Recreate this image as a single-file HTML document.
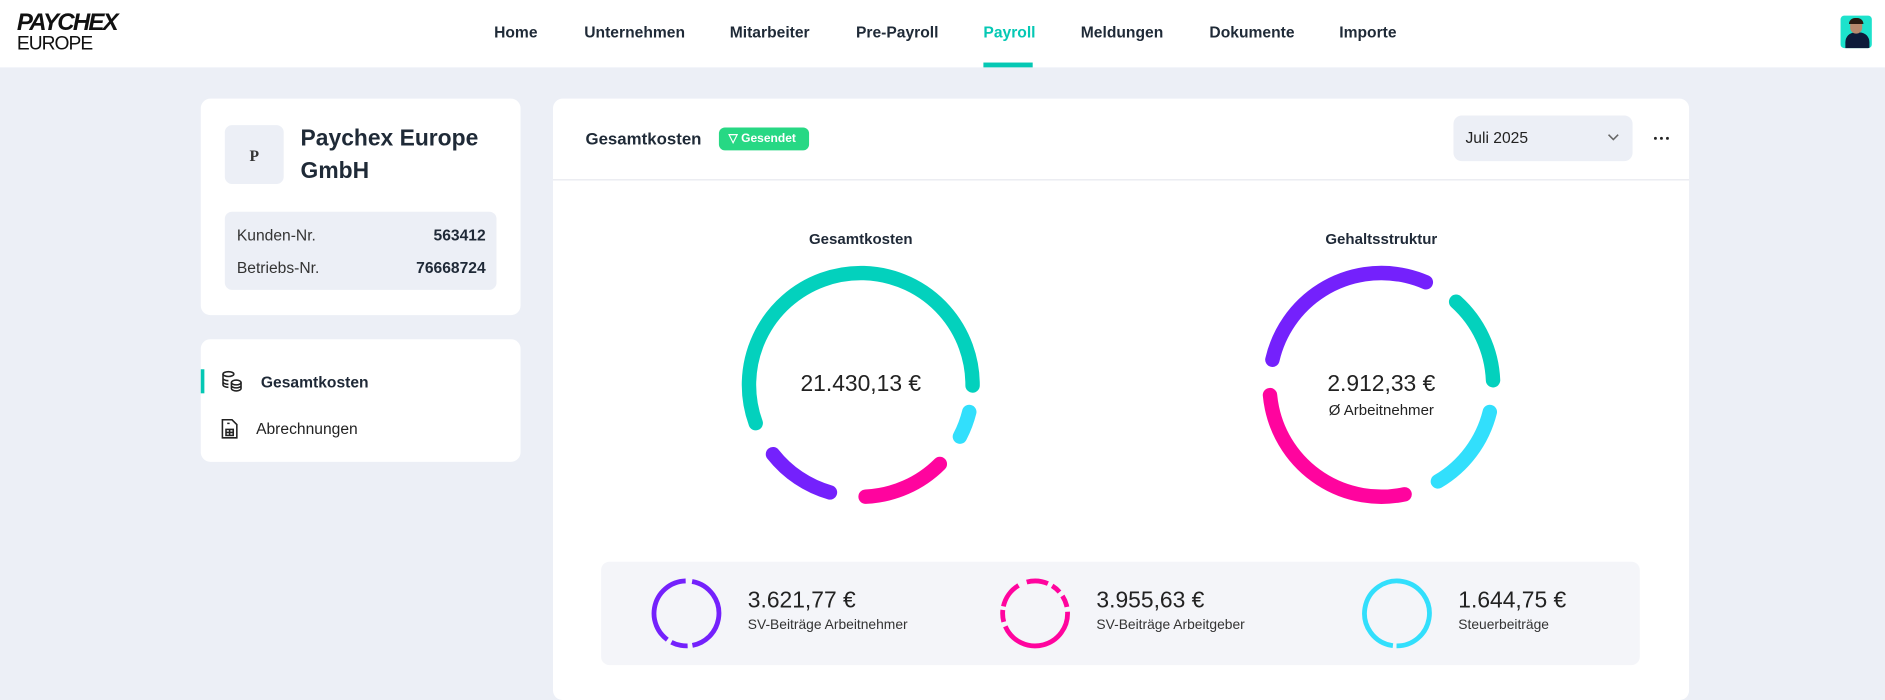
<!DOCTYPE html>
<html><head><meta charset="utf-8"><style>
html,body{margin:0;padding:0;width:1885px;height:682px;overflow:hidden;background:#eceff6;font-family:"Liberation Sans",sans-serif;color:#1f2937}
#w{position:absolute;left:0;top:0;width:1568px;height:567px;transform:scale(1.2022,1.2028);transform-origin:0 0;background:#eceff6}
.a{position:absolute;white-space:nowrap}
.nav{position:absolute;left:0;top:0;width:1568px;height:56px;background:#fff}
.ni{position:absolute;top:19px;font-size:13px;font-weight:bold;color:#1f2a37}
.card{position:absolute;background:#fff;border-radius:8px}
</style></head><body><div id="w">
<div class="nav">
 <div class="a" style="left:14px;top:8px;font-size:20px;font-weight:900;font-style:italic;letter-spacing:-1.5px;color:#111">PAYCHEX</div>
 <div class="a" style="left:14px;top:28px;font-size:16px;letter-spacing:-0.8px;color:#111">EUROPE</div>
 <div class="ni" style="left:411px">Home</div>
 <div class="ni" style="left:486px">Unternehmen</div>
 <div class="ni" style="left:607px">Mitarbeiter</div>
 <div class="ni" style="left:712px">Pre-Payroll</div>
 <div class="ni" style="left:818px;color:#05c8b4">Payroll</div>
 <div class="ni" style="left:899px">Meldungen</div>
 <div class="ni" style="left:1006px">Dokumente</div>
 <div class="ni" style="left:1114px">Importe</div>
 <div class="a" style="left:818px;top:52px;width:41px;height:4px;background:#05c8b4"></div>
 <div class="a" style="left:1531px;top:13px;width:26px;height:27px;border-radius:3px;background:#1de2cc;overflow:hidden"><div style="position:absolute;left:4px;top:14px;width:20px;height:14px;border-radius:8px 8px 0 0;background:#0d1b3a"></div><div style="position:absolute;left:8px;top:3px;width:10px;height:12px;border-radius:5px;background:#b98a6e"></div><div style="position:absolute;left:7px;top:2px;width:12px;height:5px;border-radius:5px 5px 0 0;background:#2a1b12"></div></div>
</div>

<div class="card" style="left:167px;top:82px;width:266px;height:180px">
 <div class="a" style="left:20px;top:22px;width:49px;height:49px;border-radius:6px;background:#eceff6;font-family:'Liberation Serif',serif;font-weight:bold;font-size:13px;color:#333;text-align:center;line-height:51px">P</div>
 <div class="a" style="left:83px;top:20px;font-size:19px;font-weight:bold;line-height:27px;color:#1f2a37">Paychex Europe<br>GmbH</div>
 <div class="a" style="left:20px;top:94px;width:226px;height:65px;border-radius:6px;background:#eceff6;font-size:13px">
  <div class="a" style="left:10px;top:12px;color:#333">Kunden-Nr.</div><div class="a" style="right:9px;top:12px;font-weight:bold">563412</div>
  <div class="a" style="left:10px;top:39px;color:#333">Betriebs-Nr.</div><div class="a" style="right:9px;top:39px;font-weight:bold">76668724</div>
 </div>
</div>

<div class="card" style="left:167px;top:282px;width:266px;height:102px">
 <div class="a" style="left:0;top:25px;width:3px;height:20px;background:#05c8b4"></div>
 <svg class="a" style="left:17px;top:26px" width="18" height="18" viewBox="0 0 18 18" fill="none" stroke="#222" stroke-width="1.3"><ellipse cx="6" cy="3" rx="4.5" ry="2"/><path d="M1.5 3v9c0 1 2 2 4.5 2M1.5 6.5c0 1 2 2 4.5 2M1.5 9.5c0 1 2 2 4.5 2"/><ellipse cx="12.5" cy="10" rx="4" ry="2"/><path d="M8.5 10v5c0 1 2 2 4 2s4-1 4-2v-5M8.5 12.5c0 1 2 2 4 2s4-1 4-2"/></svg>
 <div class="a" style="left:50px;top:28px;font-size:13px;font-weight:bold">Gesamtkosten</div>
 <svg class="a" style="left:17px;top:66px" width="14" height="17" viewBox="0 0 14 17" fill="none" stroke="#222" stroke-width="1.3"><path d="M1 1h8l4 4v11H1z"/><rect x="4" y="9" width="6" height="5"/><path d="M4 11.5h6M7 9v5M5 4h2"/></svg>
 <div class="a" style="left:46px;top:67px;font-size:13px;color:#222">Abrechnungen</div>
</div>

<div class="card" style="left:460px;top:82px;width:945px;height:500px">
 <div class="a" style="left:27px;top:25px;font-size:14px;font-weight:bold;color:#1f2a37">Gesamtkosten</div>
 <div class="a" style="left:138px;top:24px;width:75px;height:19px;border-radius:5px;background:#27d884;color:#fff;font-size:10px;font-weight:bold;line-height:19px"><span style="margin-left:8px">▽</span> Gesendet</div>
 <div class="a" style="left:749px;top:14px;width:149px;height:38px;border-radius:7px;background:#eceff6">
  <div class="a" style="left:10px;top:11px;font-size:13px;color:#222">Juli 2025</div>
  <svg class="a" style="left:128px;top:15px" width="10" height="7"><path d="M1 1l4 4 4-4" fill="none" stroke="#666" stroke-width="1.3"/></svg>
 </div>
 <svg class="a" style="left:915px;top:31px" width="16" height="4"><circle cx="2" cy="2" r="1.2" fill="#222"/><circle cx="7" cy="2" r="1.2" fill="#222"/><circle cx="12" cy="2" r="1.2" fill="#222"/></svg>
 <div class="a" style="left:0;top:67px;width:945px;height:1px;background:#e6e8ee"></div>
 <div class="a" style="left:256px;top:110px;width:0"><div style="position:absolute;left:-60px;width:120px;text-align:center;font-size:12.5px;font-weight:bold">Gesamtkosten</div></div>
 <div class="a" style="left:689px;top:110px;width:0"><div style="position:absolute;left:-60px;width:120px;text-align:center;font-size:12.5px;font-weight:bold">Gehaltsstruktur</div></div>
 <div class="a" style="left:156px;top:227px;width:200px;text-align:center;font-size:19px;color:#222">21.430,13 €</div>
 <div class="a" style="left:589px;top:227px;width:200px;text-align:center;font-size:19px;color:#222">2.912,33 €</div>
 <div class="a" style="left:589px;top:252px;width:200px;text-align:center;font-size:12.5px;color:#222">Ø Arbeitnehmer</div>
 <div class="a" style="left:40px;top:385px;width:864px;height:86px;border-radius:7px;background:#f4f5f9">
  <div class="a" style="left:122px;top:22px;font-size:19px;color:#222">3.621,77 €</div>
  <div class="a" style="left:122px;top:47px;font-size:11.5px;color:#333">SV-Beiträge Arbeitnehmer</div>
  <div class="a" style="left:412px;top:22px;font-size:19px;color:#222">3.955,63 €</div>
  <div class="a" style="left:412px;top:47px;font-size:11.5px;color:#333">SV-Beiträge Arbeitgeber</div>
  <div class="a" style="left:713px;top:22px;font-size:19px;color:#222">1.644,75 €</div>
  <div class="a" style="left:713px;top:47px;font-size:11.5px;color:#333">Steuerbeiträge</div>
 </div>
</div>

<svg class="a" style="left:0;top:0" width="1568" height="567" fill="none" stroke-linecap="round">
 <g stroke-width="12">
  <circle cx="716" cy="320" r="93" stroke="#03d1bd" stroke-dasharray="325 600" transform="rotate(160 716 320)"/>
  <circle cx="716" cy="320" r="93" stroke="#32dffc" stroke-dasharray="22 600" transform="rotate(14 716 320)"/>
  <circle cx="716" cy="320" r="93" stroke="#ff049e" stroke-dasharray="69 600" transform="rotate(45 716 320)"/>
  <circle cx="716" cy="320" r="93" stroke="#7421fc" stroke-dasharray="58 600" transform="rotate(106 716 320)"/>
  <circle cx="1149" cy="320" r="93" stroke="#7421fc" stroke-dasharray="163 600" transform="rotate(193 1149 320)"/>
  <circle cx="1149" cy="320" r="93" stroke="#03d1bd" stroke-dasharray="74 600" transform="rotate(-48 1149 320)"/>
  <circle cx="1149" cy="320" r="93" stroke="#32dffc" stroke-dasharray="74 600" transform="rotate(14 1149 320)"/>
  <circle cx="1149" cy="320" r="93" stroke="#ff049e" stroke-dasharray="157 600" transform="rotate(78 1149 320)"/>
 </g>
 <g stroke-width="4" stroke-linecap="butt">
  <circle cx="571" cy="510" r="27" stroke="#7421fc" stroke-dasharray="75 4 14 4 67" transform="rotate(-80 571 510)"/>
  <circle cx="861" cy="510" r="27" stroke="#ff049e" stroke-dasharray="18 4 8 4 10 4 75 4 10 3 22" transform="rotate(-105 861 510)"/>
  <circle cx="1162" cy="510" r="27" stroke="#32dffc" stroke-dasharray="165 3" transform="rotate(100 1162 510)"/>
 </g>
</svg>
</div></body></html>
